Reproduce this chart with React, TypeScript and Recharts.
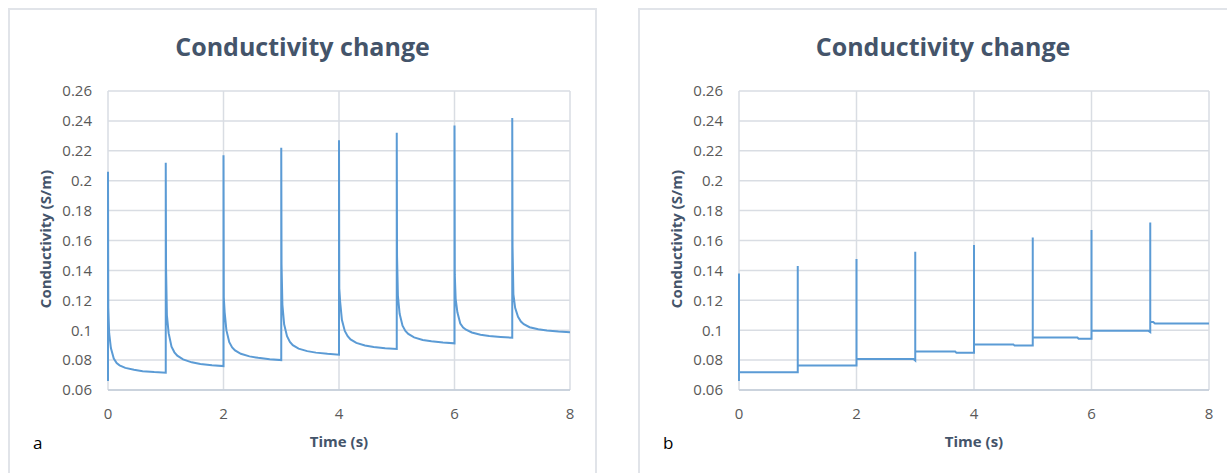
import { LineChart, Line, XAxis, YAxis, CartesianGrid } from 'recharts'

// panel a: spike then decay in each 1 s cycle
const timeOffsets = [0, 0.005, 0.02, 0.05, 0.1, 0.15, 0.2, 0.3, 0.45, 0.6, 0.8, 1.0]
const cycleStarts = [0, 1, 2, 3, 4, 5, 6, 7]
const startA = 0.066
const cyclesA = [
  [0.206, 0.115, 0.098, 0.088, 0.081, 0.078, 0.0765, 0.0748, 0.0735, 0.0726, 0.072, 0.0716],
  [0.212, 0.142, 0.11, 0.098, 0.089, 0.0852, 0.083, 0.0805, 0.0785, 0.0774, 0.0766, 0.076],
  [0.217, 0.122, 0.112, 0.1, 0.092, 0.0885, 0.0865, 0.0842, 0.0825, 0.0815, 0.0806, 0.08],
  [0.222, 0.144, 0.117, 0.104, 0.096, 0.0922, 0.09, 0.0877, 0.086, 0.085, 0.0842, 0.0836],
  [0.227, 0.128, 0.119, 0.107, 0.0995, 0.096, 0.0938, 0.0915, 0.0898, 0.0888, 0.088, 0.0874],
  [0.232, 0.15, 0.123, 0.111, 0.103, 0.0995, 0.0975, 0.0952, 0.0935, 0.0926, 0.0918, 0.0912],
  [0.237, 0.137, 0.121, 0.112, 0.1045, 0.1018, 0.1003, 0.0985, 0.097, 0.0961, 0.0955, 0.095],
  [0.242, 0.156, 0.124, 0.115, 0.109, 0.1058, 0.104, 0.102, 0.1006, 0.0998, 0.0991, 0.0986],
]

// panel b: step changes
const timeB = [
  0, 0, 0, 1,
  1, 1, 2,
  2, 2, 2.97, 3,
  3, 3, 3.68, 3.7, 4,
  4, 4, 4.67, 4.69, 5,
  5, 5, 5.76, 5.78, 6,
  6, 6, 6.97, 7,
  7, 7, 7.05, 7.08, 8,
]
const conductivityB = [
  0.066, 0.138, 0.0718, 0.0718,
  0.143, 0.0764, 0.0764,
  0.1476, 0.0809, 0.0807, 0.0797,
  0.1525, 0.0858, 0.0857, 0.085, 0.085,
  0.157, 0.0906, 0.0905, 0.0897, 0.0897,
  0.162, 0.0952, 0.0951, 0.0943, 0.0943,
  0.167, 0.0997, 0.0996, 0.0988,
  0.172, 0.1056, 0.1055, 0.1045, 0.1044,
]

const yTicks = [0.06, 0.08, 0.1, 0.12, 0.14, 0.16, 0.18, 0.2, 0.22, 0.24, 0.26]
const xTicks = [0, 2, 4, 6, 8]

const dataA = [
  { t: 0, v: startA },
  ...cyclesA.flatMap((vals, k) =>
    vals.map((v, i) => ({ t: cycleStarts[k] + timeOffsets[i], v }))
  ),
]
const dataB = timeB.map((t, i) => ({ t, v: conductivityB[i] }))

const font = '"Open Sans", sans-serif'
const titleColor = '#44546a'
const tickColor = '#595959'
const gridColor = '#d9dde3'
const axisColor = '#c3ccd9'
const lineColor = '#5b9bd5'

type PanelProps = {
  data: { t: number; v: number }[]
  left: number
  width: number
  plotLeft: number
  plotRight: number
  letter: string
}

function Panel({ data, left, width, plotLeft, plotRight, letter }: PanelProps) {
  const plotCenter = (plotLeft + plotRight) / 2 - left
  return (
    <>
      <div
        style={{
          position: 'absolute',
          left,
          top: 8,
          width: width - 4,
          height: 500,
          border: '2px solid #e1e4e9',
          boxSizing: 'border-box',
        }}
      />
      <div
        style={{
          position: 'absolute',
          left,
          top: 0,
          width: width - 4,
          height: 473,
        }}
      >
        <div
          style={{
            position: 'absolute',
            left: 0,
            width: '100%',
            top: 29,
            textAlign: 'center',
            fontFamily: font,
            fontWeight: 700,
            fontSize: 25,
            color: titleColor,
          }}
        >
          Conductivity change
        </div>
        <div
          style={{
            position: 'absolute',
            left: plotLeft - left - 63 - 100,
            top: 240 - 11,
            width: 200,
            textAlign: 'center',
            transform: 'rotate(-90deg)',
            fontFamily: font,
            fontWeight: 700,
            fontSize: 15,
            color: titleColor,
          }}
        >
          Conductivity (S/m)
        </div>
        <div
          style={{
            position: 'absolute',
            left: plotCenter - 100,
            top: 431,
            width: 200,
            textAlign: 'center',
            fontFamily: font,
            fontWeight: 700,
            fontSize: 15,
            color: titleColor,
          }}
        >
          Time (s)
        </div>
        <div
          style={{
            position: 'absolute',
            left: 25,
            top: 431,
            fontFamily: font,
            fontSize: 17,
            color: '#000',
          }}
        >
          {letter}
        </div>
      </div>
      <div style={{ position: 'absolute', left, top: 0 }}>
        <LineChart
          width={width}
          height={473}
          data={data}
          margin={{ top: 91, right: left + width - plotRight, bottom: 53, left: plotLeft - left - 60 }}
        >
          <CartesianGrid stroke={gridColor} strokeWidth={1.5} />
          <XAxis
            dataKey="t"
            type="number"
            domain={[0, 8]}
            ticks={xTicks}
            height={30}
            tickLine={false}
            tickMargin={12}
            axisLine={{ stroke: axisColor, strokeWidth: 1.5 }}
            tick={{ fill: tickColor, fontFamily: font, fontSize: 15 }}
          />
          <YAxis
            type="number"
            domain={[0.06, 0.26]}
            ticks={yTicks}
            width={60}
            tickLine={false}
            tickMargin={10}
            axisLine={false}
            tickFormatter={(v: number) => String(v)}
            tick={{ fill: tickColor, fontFamily: font, fontSize: 15 }}
          />
          <Line
            dataKey="v"
            type="linear"
            stroke={lineColor}
            strokeWidth={2}
            dot={false}
            isAnimationActive={false}
          />
        </LineChart>
      </div>
    </>
  )
}

export default function App() {
  return (
    <div
      style={{
        position: 'fixed',
        left: 0,
        top: 0,
        width: 1227,
        height: 473,
        overflow: 'hidden',
        background: '#fff',
      }}
    >
      <Panel data={dataA} left={8} width={593} plotLeft={108} plotRight={570} letter="a" />
      <Panel data={dataB} left={638} width={614} plotLeft={739} plotRight={1209} letter="b" />
    </div>
  )
}
